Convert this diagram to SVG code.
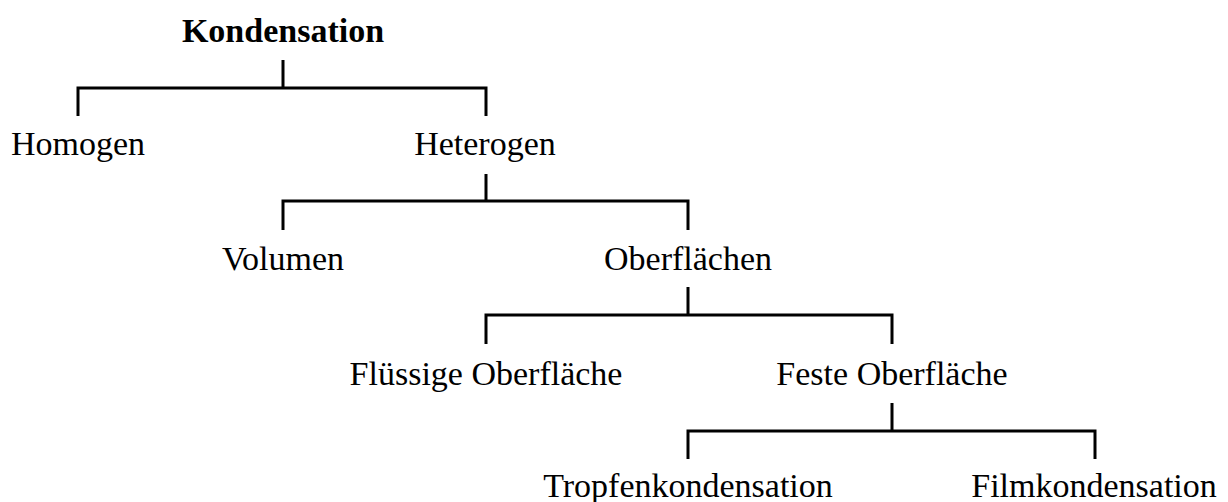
<svg xmlns="http://www.w3.org/2000/svg" width="1228" height="502" viewBox="0 0 1228 502">
<style>
.t{font-family:"Liberation Serif","Times New Roman",serif;font-size:34px;fill:#000;text-anchor:middle}
.b{font-weight:bold}
.c{fill:none;stroke:#000;stroke-width:3;stroke-linecap:butt}
</style>
<rect width="1228" height="502" fill="#fff"/>
<g id="connectors" class="c">
<path d="M283 60V88M78 116V88H486V116"/>
<path d="M486 174V201M283 230V201H688V230"/>
<path d="M688 287V315M486 344V315H892V344"/>
<path d="M892 403V431M688 459V431H1095V459"/>
</g>
<g id="n-kondensation"><text class="t b" x="283" y="42">Kondensation</text></g>
<g id="n-homogen"><text class="t" x="78" y="155">Homogen</text></g>
<g id="n-heterogen"><text class="t" x="485" y="155">Heterogen</text></g>
<g id="n-volumen"><text class="t" x="283" y="270">Volumen</text></g>
<g id="n-oberflaechen"><text class="t" x="688" y="270">Oberflächen</text></g>
<g id="n-fluessig"><text class="t" x="486" y="385">Flüssige Oberfläche</text></g>
<g id="n-fest"><text class="t" x="892" y="385">Feste Oberfläche</text></g>
<g id="n-tropfen"><text class="t" x="688" y="497">Tropfenkondensation</text></g>
<g id="n-film"><text class="t" x="1094" y="497">Filmkondensation</text></g>
</svg>
